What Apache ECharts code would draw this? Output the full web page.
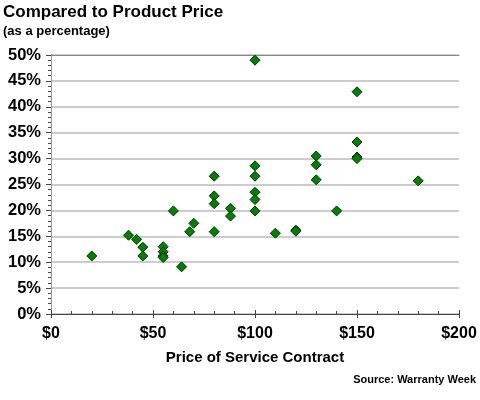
<!DOCTYPE html>
<html>
<head>
<meta charset="utf-8">
<script src="https://cdn.jsdelivr.net/npm/echarts@6/dist/echarts.min.js"></script>
<style>html,body{margin:0;padding:0;background:#fff}#c{width:480px;height:400px}</style>
</head>
<body>
<div id="c"></div>
<script>
var titleText = 'Compared to Product Price';
var subtitleText = '(as a percentage)';
var xAxisName = 'Price of Service Contract';
var sourceText = 'Source: Warranty Week';
var priceValues = [20,38,42,45,45,55,55,55,55,60,64,68,70,80,80,80,80,88,88,100,100,100,100,100,100,110,120,120,130,130,130,140,150,150,150,150,180];
var pctValues = [11.2,15.2,14.4,12.9,11.2,13.0,12.0,11.2,10.9,19.9,9.1,15.9,17.5,26.6,22.8,21.3,15.9,20.4,18.9,49.0,28.6,26.6,23.5,22.1,19.9,15.6,16.2,16.0,30.5,28.8,25.9,19.9,42.9,33.2,30.3,30.0,25.7];

var points = priceValues.map(function (p, i) { return [p, pctValues[i]]; });
var font = 'Liberation Sans, Arial, sans-serif';
var chart = echarts.init(document.getElementById('c'), null, {renderer: 'canvas'});
chart.setOption({
  animation: false,
  backgroundColor: '#fff',
  textStyle: {fontFamily: font},
  title: [
    {text: titleText, left: 3, top: 4, padding: 0, textStyle: {fontFamily: font, fontSize: 17, fontWeight: 'bold', color: '#000'}},
    {text: subtitleText, left: 3, top: 25, padding: 0, textStyle: {fontFamily: font, fontSize: 13, fontWeight: 'bold', color: '#000'}},
    {text: sourceText, right: 4, top: 374, padding: 0, textStyle: {fontFamily: font, fontSize: 11, fontWeight: 'bold', color: '#000'}}
  ],
  grid: {left: 51, right: 21, top: 55, bottom: 86, containLabel: false},
  xAxis: [
    {
      type: 'value', min: 0, max: 200, interval: 50,
      name: xAxisName, nameLocation: 'middle', nameGap: 36,
      nameTextStyle: {fontFamily: font, fontSize: 15, fontWeight: 'bold', color: '#000'},
      axisLine: {show: true, lineStyle: {color: '#444', width: 1}},
      axisTick: {show: true, inside: true, length: 4, lineStyle: {color: '#444'}},
      minorTick: {show: true, splitNumber: 5, length: 3, lineStyle: {color: '#444'}},
      axisLabel: {formatter: '${value}', fontFamily: font, fontSize: 16, fontWeight: 'bold', color: '#000', margin: 12},
      splitLine: {show: false}
    },
    {
      type: 'value', min: 0, max: 200, interval: 50, position: 'bottom',
      axisLine: {show: false},
      axisTick: {show: true, inside: false, length: 4, lineStyle: {color: '#444'}},
      axisLabel: {show: false},
      splitLine: {show: false}
    },
    {
      type: 'value', min: 0, max: 200, interval: 50, position: 'top',
      axisLine: {show: true, lineStyle: {color: '#888', width: 1}},
      axisTick: {show: false}, axisLabel: {show: false}, splitLine: {show: false}
    }
  ],
  yAxis: [
    {
      type: 'value', min: 0, max: 50, interval: 5,
      axisLine: {show: true, lineStyle: {color: '#444', width: 1}},
      axisTick: {show: true, inside: false, length: 5, lineStyle: {color: '#444'}},
      minorTick: {show: true, splitNumber: 5, length: 3, lineStyle: {color: '#444'}},
      axisLabel: {formatter: '{value}%', fontFamily: font, fontSize: 16.5, fontWeight: 'bold', color: '#000', margin: 10},
      splitLine: {show: true, lineStyle: {color: '#bbb', width: 1.5}}
    },
    {
      type: 'value', min: 0, max: 50, interval: 5, position: 'right',
      axisLine: {show: true, lineStyle: {color: '#999', width: 1}},
      axisTick: {show: false}, axisLabel: {show: false}, splitLine: {show: false}
    }
  ],
  series: [{
    type: 'scatter',
    xAxisIndex: 0, yAxisIndex: 0,
    symbol: 'diamond',
    symbolSize: [10, 10],
    itemStyle: {color: '#008000', borderColor: '#103010', borderWidth: 1, opacity: 1},
    data: points
  }]
});
</script>
</body>
</html>
